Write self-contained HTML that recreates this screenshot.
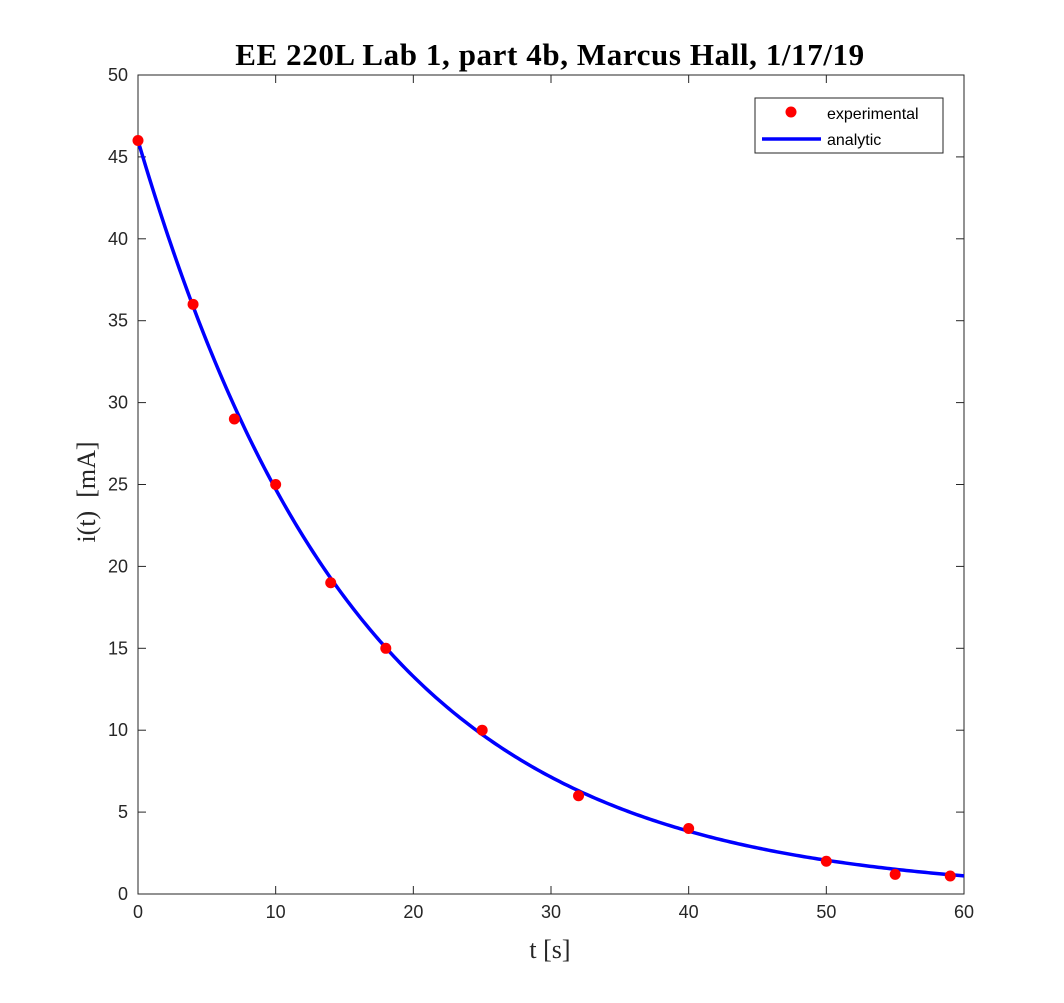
<!DOCTYPE html>
<html><head><meta charset="utf-8"><style>
html,body{margin:0;padding:0;background:#fff;}
svg{display:block;}
</style></head><body>
<svg id="chart" width="1064" height="1003" xmlns="http://www.w3.org/2000/svg">
<rect x="0" y="0" width="1064" height="1003" fill="#fff"/>
<text x="550" y="65" text-anchor="middle" font-family="Liberation Serif, serif" font-weight="bold" font-size="31" letter-spacing="0.6" fill="#000">EE 220L Lab 1, part 4b, Marcus Hall, 1/17/19</text>
<g id="axes"></g>
<g id="marks"></g>
<text x="550" y="958" text-anchor="middle" font-family="Liberation Serif, serif" font-size="26" fill="#262626">t [s]</text>
<text transform="translate(95,492) rotate(-90)" text-anchor="middle" font-family="Liberation Serif, serif" font-size="26" fill="#262626" xml:space="preserve" style="white-space:pre">i(t)  [mA]</text>
<g>
<rect x="755" y="98" width="188" height="55" fill="#fff" stroke="#262626" stroke-width="1"/>
<circle cx="791" cy="112" r="5.5" fill="#ff0000"/>
<text x="827" y="119" font-family="Liberation Sans, sans-serif" font-size="16" fill="#000">experimental</text>
<line x1="762" y1="139" x2="821" y2="139" stroke="#0000ff" stroke-width="3.5"/>
<text x="827" y="145" font-family="Liberation Sans, sans-serif" font-size="16" fill="#000">analytic</text>
</g>
</svg>
<script>
const xTicks = [0,10,20,30,40,50,60];
const yTicks = [0,5,10,15,20,25,30,35,40,45,50];
const expT = [0,4,7,10,14,18,25,32,40,50,55,59];
const expI = [46,36,29,25,19,15,10,6,4,2,1.2,1.1];
const modelI0 = [46];
const modelTau = [16.1];
const NS='http://www.w3.org/2000/svg';
const L=138,R=964,T=75,B=894;
const X=v=>L+(v-0)/(60-0)*(R-L);
const Y=v=>B-(v-0)/(50-0)*(B-T);
const axes=document.getElementById('axes'), marks=document.getElementById('marks');
function mk(tag,attrs,parent){const e=document.createElementNS(NS,tag);for(const k in attrs)e.setAttribute(k,attrs[k]);parent.appendChild(e);return e;}
const box=mk('rect',{x:L,y:T,width:R-L,height:B-T,fill:'none',stroke:'#262626','stroke-width':1},axes);


xTicks.forEach(t=>{
  const g=mk('g',{},axes);
  
  
  mk('line',{x1:X(t),x2:X(t),y1:B,y2:B-8,stroke:'#262626'},g);
  mk('line',{x1:X(t),x2:X(t),y1:T,y2:T+8,stroke:'#262626'},g);
  const tx=mk('text',{x:X(t),y:B+24,'text-anchor':'middle','font-family':'Liberation Sans, sans-serif','font-size':18,fill:'#262626'},g);
  tx.textContent=t;
});
yTicks.forEach(t=>{
  const g=mk('g',{},axes);
  
  
  mk('line',{x1:L,x2:L+8,y1:Y(t),y2:Y(t),stroke:'#262626'},g);
  mk('line',{x1:R,x2:R-8,y1:Y(t),y2:Y(t),stroke:'#262626'},g);
  const tx=mk('text',{x:L-10,y:Y(t)+6,'text-anchor':'end','font-family':'Liberation Sans, sans-serif','font-size':18,fill:'#262626'},g);
  tx.textContent=t;
});
let d='';
for(let i=0;i<=300;i++){const t=60*i/300;const v=modelI0[0]*Math.exp(-t/modelTau[0]);d+=(i?'L':'M')+X(t).toFixed(2)+','+Y(v).toFixed(2);}
const curve=mk('path',{d:d,fill:'none',stroke:'#0000ff','stroke-width':3.5},marks);


expT.forEach((t,i)=>{
  const c=mk('circle',{cx:X(t),cy:Y(expI[i]),r:5.5,fill:'#ff0000'},marks);
  
  
});
</script>
</body></html>
